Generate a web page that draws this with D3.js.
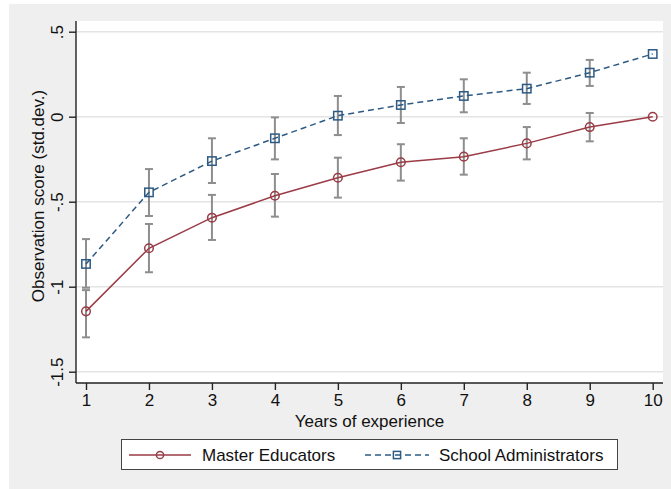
<!DOCTYPE html>
<html>
<head>
<meta charset="utf-8">
<script src="https://cdn.jsdelivr.net/npm/d3@7"></script>
<style>
  body { margin: 0; background: #fff; }
  svg { display: block; font-family: "Liberation Sans", Arial, Helvetica, sans-serif; }
</style>
</head>
<body>
<svg id="chart" width="671" height="489"></svg>
<script>
// Data
const years = [1, 2, 3, 4, 5, 6, 7, 8, 9, 10];

const masterMean = [-1.145, -0.774, -0.594, -0.465, -0.359, -0.268, -0.235, -0.157, -0.061, 0];
const masterLo   = [-1.298, -0.915, -0.725, -0.588, -0.476, -0.376, -0.341, -0.251, -0.145, null];
const masterHi   = [-1.02, -0.631, -0.46, -0.337, -0.241, -0.162, -0.127, -0.061, 0.022, null];

const adminMean = [-0.866, -0.445, -0.261, -0.127, 0.006, 0.069, 0.122, 0.165, 0.259, 0.369];
const adminLo   = [-1.006, -0.584, -0.39, -0.251, -0.108, -0.037, 0.026, 0.075, 0.181, null];
const adminHi   = [-0.72, -0.308, -0.127, -0.004, 0.122, 0.175, 0.22, 0.259, 0.334, null];

const yTicks = [0.5, 0, -0.5, -1, -1.5];
const yTickLabels = [".5", "0", "-.5", "-1", "-1.5"];
const seriesNames = ["Master Educators", "School Administrators"];

const red = "#9a3b46";
const blue = "#2c5a85";
const ciColor = "#8e8e8e";

const svg = d3.select("#chart");

// outer stata-style gray background
svg.append("rect")
  .attr("x", 9).attr("y", 4)
  .attr("width", 671 - 9).attr("height", 489 - 4)
  .attr("fill", "#efefef");

const plot = { left: 76, top: 21, right: 663, bottom: 383 };

// white plot region
svg.append("rect")
  .attr("x", plot.left).attr("y", plot.top)
  .attr("width", plot.right - plot.left).attr("height", plot.bottom - plot.top)
  .attr("fill", "#fff");

const x = d3.scaleLinear().domain([1, 10]).range([86, 652.7]);
const y = d3.scaleLinear().domain([0, -1]).range([116.7, 286.7]);

// grid lines
svg.append("g")
  .selectAll("line")
  .data(yTicks)
  .join("line")
  .attr("x1", plot.left).attr("x2", plot.right)
  .attr("y1", d => y(d)).attr("y2", d => y(d))
  .attr("stroke", "#e4e4e4")
  .attr("stroke-width", 1.5);

// y axis
const yAxis = d3.axisLeft(y)
  .tickValues(yTicks)
  .tickSize(7)
  .tickPadding(0)
  .tickFormat((d, i) => yTickLabels[i]);

const yAxisG = svg.append("g")
  .attr("transform", `translate(${plot.left},0)`)
  .call(yAxis);
yAxisG.select(".domain").attr("d", `M0,${plot.top}V${plot.bottom}`);
yAxisG.selectAll(".tick text")
  .attr("x", null).attr("dy", null)
  .attr("text-anchor", "middle")
  .attr("transform", "translate(-13,0) rotate(-90)");

// x axis
const xAxis = d3.axisBottom(x)
  .tickValues(years)
  .tickSize(7)
  .tickPadding(4)
  .tickFormat(d3.format("d"));

const xAxisG = svg.append("g")
  .attr("transform", `translate(0,${plot.bottom})`)
  .call(xAxis);
xAxisG.select(".domain").attr("d", `M${plot.left},0H${plot.right}`);

[yAxisG, xAxisG].forEach(g => {
  g.select(".domain").attr("stroke", "#222").attr("stroke-width", 1.4);
  g.selectAll(".tick line").attr("stroke", "#222").attr("stroke-width", 1.4);
  g.selectAll(".tick text").attr("fill", "#111").style("font-size", "17px");
});

// axis titles
svg.append("text")
  .attr("text-anchor", "middle")
  .attr("transform", "translate(44,196) rotate(-90)")
  .style("font-size", "17px")
  .attr("fill", "#111")
  .text("Observation score (std.dev.)");

svg.append("text")
  .attr("text-anchor", "middle")
  .attr("x", (plot.left + plot.right) / 2)
  .attr("y", 427)
  .style("font-size", "17px")
  .attr("fill", "#111")
  .text("Years of experience");

// confidence intervals
function drawCI(lo, hi) {
  const rows = years.map((yr, i) => ({ yr, lo: lo[i], hi: hi[i] })).filter(d => d.lo !== null);
  const g = svg.append("g").attr("stroke", ciColor).attr("stroke-width", 2).attr("fill", "none");
  g.selectAll(".v").data(rows).join("line")
    .attr("x1", d => x(d.yr)).attr("x2", d => x(d.yr))
    .attr("y1", d => y(d.lo)).attr("y2", d => y(d.hi));
  g.selectAll(".lo").data(rows).join("line")
    .attr("x1", d => x(d.yr) - 4).attr("x2", d => x(d.yr) + 4)
    .attr("y1", d => y(d.lo)).attr("y2", d => y(d.lo));
  g.selectAll(".hi").data(rows).join("line")
    .attr("x1", d => x(d.yr) - 4).attr("x2", d => x(d.yr) + 4)
    .attr("y1", d => y(d.hi)).attr("y2", d => y(d.hi));
}
drawCI(masterLo, masterHi);
drawCI(adminLo, adminHi);

const line = d3.line().x(d => x(d[0])).y(d => y(d[1]));

const masterPts = years.map((yr, i) => [yr, masterMean[i]]);
const adminPts = years.map((yr, i) => [yr, adminMean[i]]);

svg.append("path")
  .attr("d", line(masterPts))
  .attr("fill", "none").attr("stroke", red).attr("stroke-width", 1.5);

svg.append("path")
  .attr("d", line(adminPts))
  .attr("fill", "none").attr("stroke", blue).attr("stroke-width", 1.5)
  .attr("stroke-dasharray", "6,4");

svg.append("g").selectAll("circle")
  .data(masterPts).join("circle")
  .attr("cx", d => x(d[0])).attr("cy", d => y(d[1]))
  .attr("r", 4.3)
  .attr("fill", "none").attr("stroke", red).attr("stroke-width", 1.5);

svg.append("g").selectAll("rect")
  .data(adminPts).join("rect")
  .attr("x", d => x(d[0]) - 4.2).attr("y", d => y(d[1]) - 4.2)
  .attr("width", 8.4).attr("height", 8.4)
  .attr("fill", "none").attr("stroke", blue).attr("stroke-width", 1.5);

// legend
const legend = svg.append("g");
legend.append("rect")
  .attr("x", 121.5).attr("y", 439.5)
  .attr("width", 496).attr("height", 30)
  .attr("fill", "#fff").attr("stroke", "#444").attr("stroke-width", 1);

const ly = 455;
legend.append("line")
  .attr("x1", 129).attr("x2", 191).attr("y1", ly).attr("y2", ly)
  .attr("stroke", red).attr("stroke-width", 1.5);
legend.append("circle")
  .attr("cx", 160).attr("cy", ly).attr("r", 3.6)
  .attr("fill", "none").attr("stroke", red).attr("stroke-width", 1.5);
legend.append("text")
  .attr("x", 202).attr("y", ly + 6)
  .style("font-size", "17px").attr("fill", "#111")
  .text(seriesNames[0]);

legend.append("line")
  .attr("x1", 365).attr("x2", 429).attr("y1", ly).attr("y2", ly)
  .attr("stroke", blue).attr("stroke-width", 1.5)
  .attr("stroke-dasharray", "6,4");
legend.append("rect")
  .attr("x", 397 - 3.6).attr("y", ly - 3.6)
  .attr("width", 7.2).attr("height", 7.2)
  .attr("fill", "none").attr("stroke", blue).attr("stroke-width", 1.5);
legend.append("text")
  .attr("x", 439).attr("y", ly + 6)
  .style("font-size", "17px").attr("fill", "#111")
  .text(seriesNames[1]);
</script>
</body>
</html>
